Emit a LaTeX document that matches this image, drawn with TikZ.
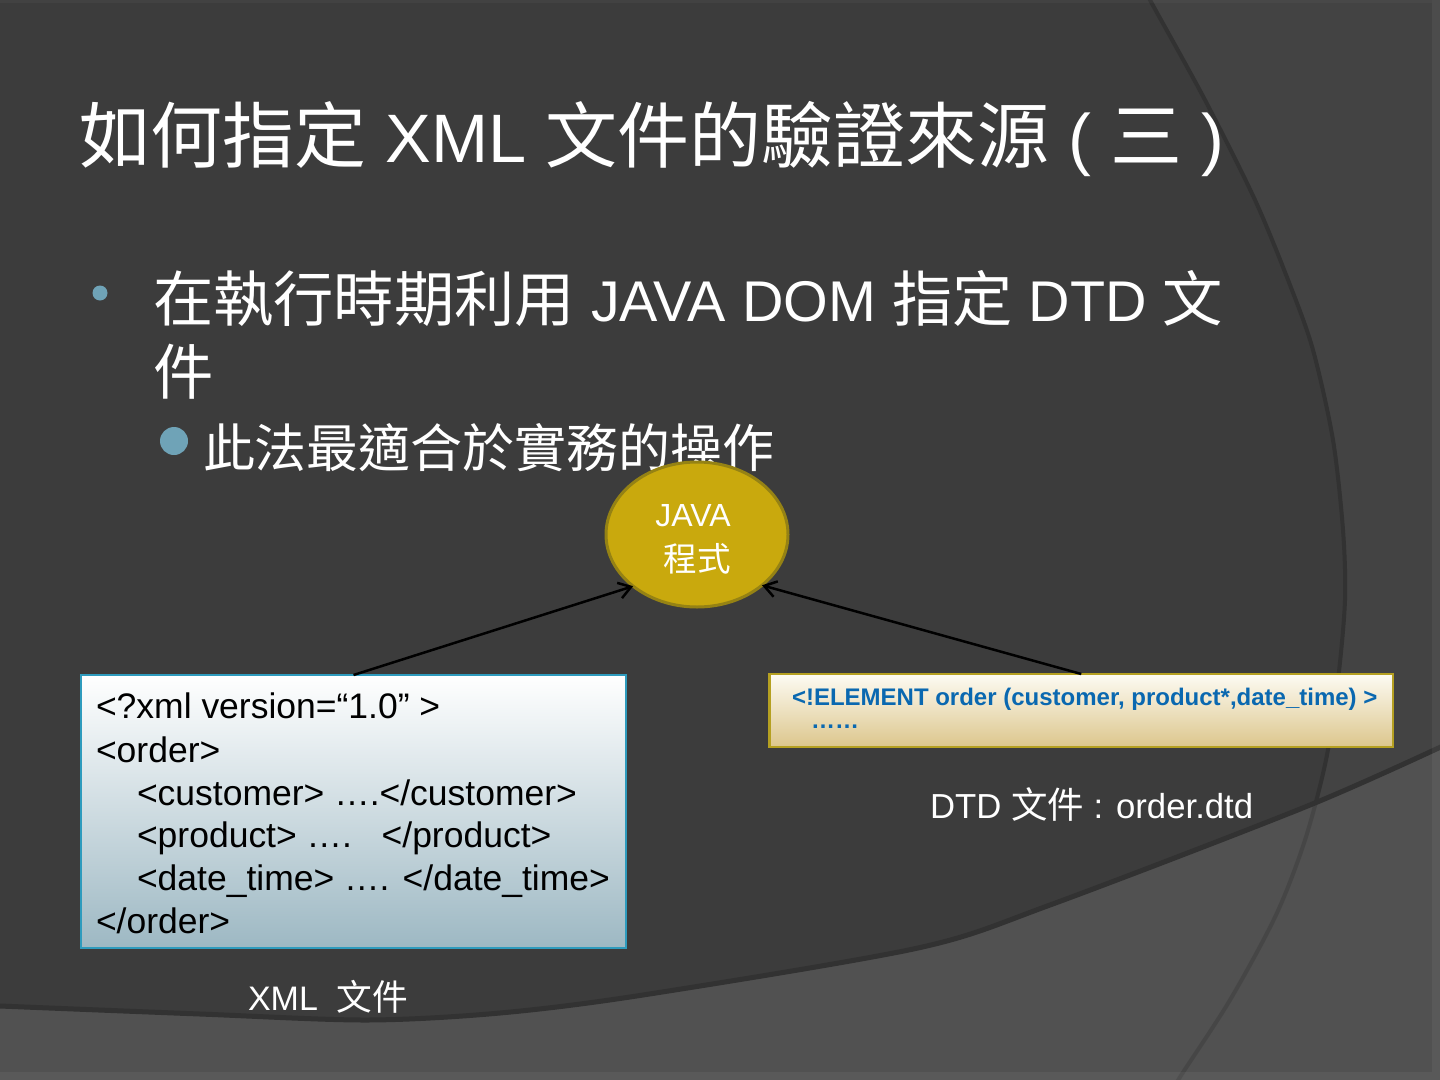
\documentclass[tikz,border=0pt]{standalone}
\usepackage{fontspec}
\setmainfont{Liberation Sans}
\newfontfamily\cjk{Noto Sans CJK TC}[Scale=1.05]
\usetikzlibrary{arrows.meta,shapes.geometric}
\definecolor{bgdark}{HTML}{3C3C3C}
\definecolor{bgmid}{HTML}{434343}
\definecolor{bglow}{HTML}{515151}
\definecolor{edgec}{HTML}{323232}
\definecolor{bul}{HTML}{6FA3B7}
\definecolor{xmlborder}{HTML}{2E9BBD}
\definecolor{xmlbot}{HTML}{9DB8C3}
\definecolor{dtdborder}{HTML}{B5A021}
\definecolor{dtdtop}{HTML}{FDFBF3}
\definecolor{dtdbot}{HTML}{DCC68C}
\definecolor{dtdtext}{HTML}{0A68B0}
\definecolor{javafill}{HTML}{C9A90D}
\definecolor{javaborder}{HTML}{958214}
\begin{document}
\begin{tikzpicture}[x=0.5mm,y=-0.5mm,
  txt/.style={anchor=base west, inner sep=0, outer sep=0, text=white},
  codeline/.style={anchor=base west, inner sep=0, outer sep=0, text=black, font=\fontsize{50.5pt}{60pt}\selectfont},
  dtdline/.style={anchor=base west, inner sep=0, outer sep=0, text=dtdtext, font=\bfseries\fontsize{34.14pt}{40pt}\selectfont},
  dot/.style={circle, fill=bul, inner sep=0, outer sep=0},
  conn/.style={draw=black, line width=1.25mm, -{Straight Barb[length=6mm,width=8mm]}},
  boxbase/.style={inner sep=0, outer sep=0}]
\useasboundingbox (0,0) rectangle (1440,1080);
\clip (0,0) rectangle (1440,1080);
% background
\fill[bgdark] (0,0) rectangle (1440,1080);
\fill[bgmid] plot[smooth] coordinates {(1140,-20) (1150,0) (1205,100) (1255,200) (1290,285) (1313,350) (1333,440) (1343,530) (1345,600) (1338,680) (1326,760) (1305,840) (1276,915) (1230,1000) (1180,1077) (1170,1095)} -- (1460,1095) -- (1460,-20) -- cycle;
\draw[edgec, line width=2mm] plot[smooth] coordinates {(1140,-20) (1150,0) (1205,100) (1255,200) (1290,285) (1313,350) (1333,440) (1343,530) (1345,600) (1338,680) (1326,760) (1305,840) (1276,915) (1230,1000) (1180,1077) (1170,1095)};
\fill[bglow] plot[smooth] coordinates {(-20,1007) (0,1008) (200,1016) (367,1022) (500,1015) (643,997) (918,950) (1050,907) (1310,807) (1460,740)} -- (1460,1095) -- (-20,1095) -- cycle;
\begin{scope}
\clip plot[smooth] coordinates {(-20,1007) (0,1008) (200,1016) (367,1022) (500,1015) (643,997) (918,950) (1050,907) (1310,807) (1460,740)} -- (1460,1095) -- (-20,1095) -- cycle;
\draw[black, opacity=0.13, line width=2mm] plot[smooth] coordinates {(1140,-20) (1150,0) (1205,100) (1255,200) (1290,285) (1313,350) (1333,440) (1343,530) (1345,600) (1338,680) (1326,760) (1305,840) (1276,915) (1230,1000) (1180,1077) (1170,1095)};
\end{scope}
\draw[edgec, line width=2.5mm] plot[smooth] coordinates {(-20,1005) (0,1006) (200,1014) (367,1020) (500,1013) (643,995) (918,948) (1050,905) (1310,805) (1460,738)};
\fill[white, opacity=0.05] (1432,0) rectangle (1440,1080);
\fill[white, opacity=0.05] (0,1072) rectangle (1432,1080);
\fill[white, opacity=0.03] (0,0) rectangle (1432,3);
% title
\node[txt, font=\fontsize{97.5pt}{110pt}\selectfont] (title) at (79,162) {{\cjk 如何指定} XML {\cjk 文件的驗證來源} ( {\cjk 三} )};
% bullets
\node[dot, minimum size=7.5mm] (b1) at (100,293) {};
\node[txt, font=\fontsize{81.7pt}{90pt}\selectfont] (t1) at (153,321) {{\cjk 在執行時期利用} JAVA DOM {\cjk 指定} DTD {\cjk 文}};
\node[txt, font=\fontsize{81.7pt}{90pt}\selectfont] (t1b) at (153,394) {{\cjk 件}};
\node[dot, minimum size=14mm] (b2) at (174,441) {};
\node[txt, font=\fontsize{70.42pt}{80pt}\selectfont] (t2) at (203,467) {{\cjk 此法最適合於實務的操作}};
% XML box
\node[boxbase, draw=xmlborder, line width=0.75mm, top color=white, bottom color=xmlbot, minimum width=272.5mm, minimum height=136.5mm] (xml) at (353.5,811.5) {};
\node[codeline] (x1) at (96,718) {<?xml version=“1.0” >};
\node[codeline] (x2) at (96,762) {<order>};
\node[codeline] (x3) at (137,805) {<customer> ….</customer>};
\node[codeline] (x4) at (137,847) {<product> ….\ \ \ </product>};
\node[codeline] (x5) at (137,890) {<date\_time> …. </date\_time>};
\node[codeline] (x6) at (96,933) {</order>};
% DTD box
\node[boxbase, draw=dtdborder, line width=1.25mm, top color=dtdtop, bottom color=dtdbot, minimum width=311.75mm, minimum height=36.5mm] (dtd) at (1081.25,710.5) {};
\node[dtdline] (d1) at (792,705) {<!ELEMENT order (customer, product*,date\_time) >};
\node[dtdline] (d2) at (811,728) {……};
% JAVA ellipse
\node[ellipse, boxbase, draw=javaborder, line width=1.5mm, fill=javafill, minimum width=91mm, minimum height=72.5mm] (java) at (697,534.5) {};
\node[anchor=base, inner sep=0, text=white, font=\fontsize{45.52pt}{60pt}\selectfont] (j1) at (693,526) {JAVA};
\node[anchor=base, inner sep=0, text=white, font=\fontsize{45.52pt}{60pt}\selectfont] (j2) at (697,571) {{\cjk 程式}};
% connectors
\draw[conn] (xml.north) -- (java.219.4);
\draw[conn] (dtd.north) -- (java.322.6);
% labels
\node[txt, font=\fontsize{49.4pt}{60pt}\selectfont] (dtdlab) at (930,818) {DTD {\cjk 文件} : order.dtd};
\node[txt, font=\fontsize{48.37pt}{60pt}\selectfont] (xmllab) at (248,1010) {XML\ \ {\cjk 文件}};
\end{tikzpicture}
\end{document}
